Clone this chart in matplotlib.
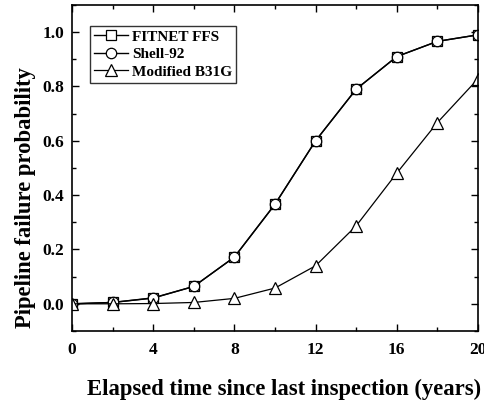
import numpy as np
import matplotlib.pyplot as plt
from matplotlib.ticker import MultipleLocator

plt.rcParams['font.family'] = ['Liberation Serif', 'DejaVu Serif']
plt.rcParams['font.weight'] = 'bold'

# Data
years = [0, 2, 4, 6, 8, 10, 12, 14, 16, 18, 20]
fitnet = [0.0, 0.005, 0.022, 0.064, 0.172, 0.366, 0.600, 0.790, 0.910, 0.966, 0.990]
shell92 = [0.0, 0.005, 0.021, 0.064, 0.172, 0.367, 0.600, 0.790, 0.910, 0.966, 0.990]
b31g = [0.0, 0.0, 0.001, 0.005, 0.020, 0.058, 0.140, 0.287, 0.481, 0.667, 0.828]
y_ticks = [0.0, 0.2, 0.4, 0.6, 0.8, 1.0]

fig = plt.figure(figsize=(4.85, 4.03), dpi=100)
ax = fig.add_axes([0.1485, 0.1787, 0.837, 0.809])

ms = 7.5
ax.plot(years, fitnet, color='black', lw=1, marker='s', ms=ms, mfc='white', mec='black', mew=0.9, label='FITNET FFS')
ax.plot(years, shell92, color='black', lw=1, marker='o', ms=ms, mfc='white', mec='black', mew=0.9, label='Shell-92')
ax.plot(years, b31g, color='black', lw=0.9, marker='^', ms=ms + 0.5, mfc='white', mec='black', mew=0.9, label='Modified B31G')

ax.set_xlim(0, 20)
ax.set_ylim(-0.1, 1.1)
ax.xaxis.set_major_locator(MultipleLocator(4))
ax.xaxis.set_minor_locator(MultipleLocator(2))
ax.yaxis.set_minor_locator(MultipleLocator(0.1))
ax.set_yticks(y_ticks)
ax.set_yticklabels([f'{v:.1f}' for v in y_ticks])
ax.tick_params(which='both', direction='in', top=True, right=True, labelsize=12.5, width=1)
ax.tick_params(which='major', length=5)
ax.tick_params(which='minor', length=3)
ax.tick_params(axis='x', which='major', pad=8)
ax.tick_params(axis='y', which='major', pad=5.5)
for s in ax.spines.values():
    s.set_linewidth(1.2)

ax.set_xlabel('Elapsed time since last inspection (years)', fontsize=16.3, fontweight='bold',
              labelpad=15, x=0.522)
ax.set_ylabel('Pipeline failure probability', fontsize=16.3, fontweight='bold', labelpad=5, y=0.41)

leg = ax.legend(loc='upper left', bbox_to_anchor=(0.045, 0.935), frameon=True, fancybox=False,
                edgecolor='black', fontsize=11, handlelength=2.2, borderpad=0.25,
                labelspacing=0.25, handletextpad=0.3, borderaxespad=0)
leg.get_frame().set_linewidth(1)

fig.savefig('out.png', dpi=100)
